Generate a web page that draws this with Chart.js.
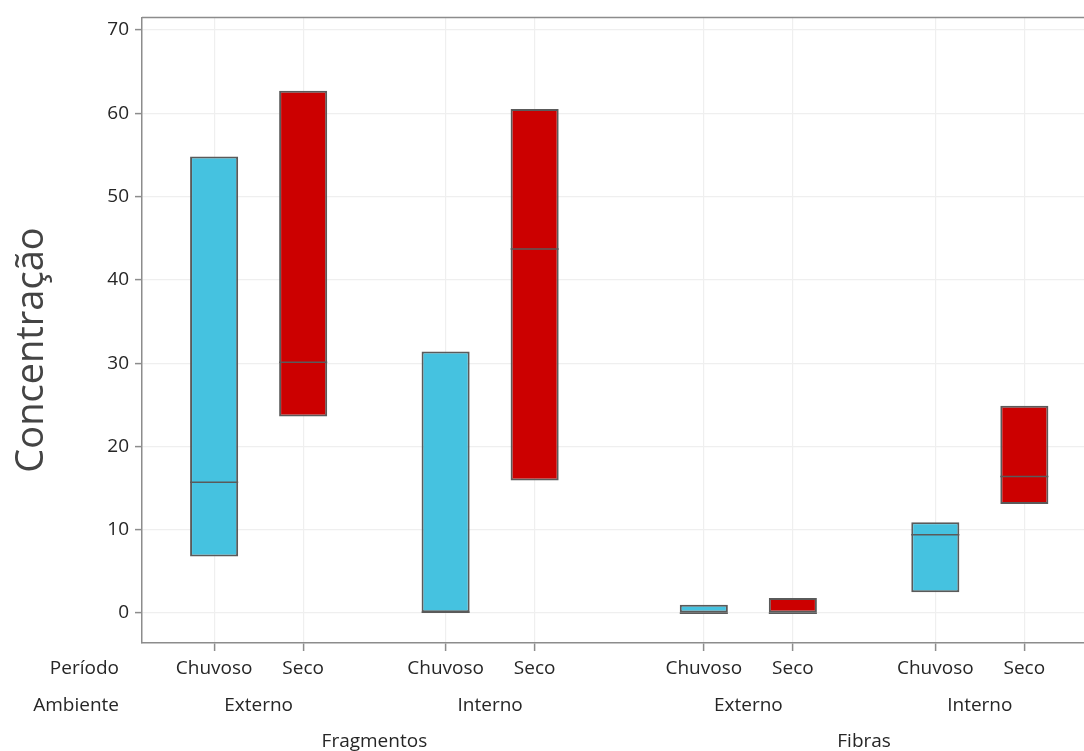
<!DOCTYPE html>
<html lang="pt">
<head>
<meta charset="utf-8">
<title>Concentração — Fragmentos e Fibras</title>
<script src="https://cdn.jsdelivr.net/npm/chart.js@4"></script>
<style>
  html, body { margin: 0; padding: 0; background: #ffffff; }
  #wrap { width: 1084px; height: 751px; }
</style>
</head>
<body>
<div id="wrap"><canvas id="c" width="1084" height="751"></canvas></div>
<script>
// Categories (one box per Período inside each Ambiente, inside each tipo)
const periodos  = ['Chuvoso', 'Seco', 'Chuvoso', 'Seco', 'Chuvoso', 'Seco', 'Chuvoso', 'Seco'];
const ambientes = ['Externo', 'Interno', 'Externo', 'Interno'];
const tipos     = ['Fragmentos', 'Fibras'];

// Box values: lower edge, median, upper edge
const minimos  = [6.8, 23.6, 0.1, 15.9, 0.0, 0.0, 2.5, 13.1];
const medianas = [15.7, 30.1, 0.1, 43.7, 0.0, 0.0, 9.4, 16.4];
const maximos  = [54.8, 62.7, 31.4, 60.5, 1.0, 1.8, 10.9, 24.9];

// Y tick labels
const yTicks = [0, 10, 20, 30, 40, 50, 60, 70];

// Horizontal layout of the slots: step between Períodos, gap between Ambientes, gap between tipos
const STEP = 1, GAP_AMB = 1.6, GAP_TIPO = 1.9;
const posicoes = [];
(function () {
  let p = 0;
  for (let i = 0; i < periodos.length; i++) {
    if (i > 0) {
      if (i % 4 === 0) p += GAP_TIPO;
      else if (i % 2 === 0) p += GAP_AMB;
      else p += STEP;
    }
    posicoes.push(p);
  }
})();

const COR_CHUVOSO = '#45c2e0';
const COR_SECO = '#cc0000';
const COR_BORDA = '#5a5a5a';
const COR_EIXO = '#8c8c8c';
const COR_TEXTO = '#262626';
const FONTE = '"Open Sans", "Noto Sans", sans-serif';

function serie(nome) {
  const pts = [];
  periodos.forEach((p, i) => {
    if (p === nome) pts.push({ x: posicoes[i], y: [minimos[i], maximos[i]], idx: i });
  });
  return pts;
}

// Median lines, frame top, axis title and the nested x labels
const extras = {
  id: 'extras',
  afterDatasetsDraw(chart) {
    const ctx = chart.ctx;
    const y = chart.scales.y;
    ctx.save();
    ctx.strokeStyle = COR_BORDA;
    ctx.lineWidth = 1.6;
    chart.data.datasets.forEach((ds, di) => {
      const meta = chart.getDatasetMeta(di);
      meta.data.forEach((bar, j) => {
        const i = ds.data[j].idx;
        const py = y.getPixelForValue(medianas[i]);
        const hw = bar.width / 2;
        ctx.beginPath();
        ctx.moveTo(bar.x - hw, py);
        ctx.lineTo(bar.x + hw, py);
        ctx.stroke();
      });
    });
    ctx.restore();
  },
  afterDraw(chart) {
    const ctx = chart.ctx;
    const a = chart.chartArea;
    const x = chart.scales.x;
    ctx.save();
    // top frame line
    ctx.strokeStyle = COR_EIXO;
    ctx.lineWidth = 1.5;
    ctx.beginPath();
    ctx.moveTo(a.left, a.top);
    ctx.lineTo(a.right, a.top);
    ctx.stroke();

    // y axis title
    ctx.fillStyle = '#444444';
    ctx.font = '38px ' + FONTE;
    ctx.textAlign = 'center';
    ctx.textBaseline = 'middle';
    ctx.translate(32, 350);
    ctx.rotate(-Math.PI / 2);
    ctx.fillText('Concentração', 0, 0);
    ctx.setTransform(1, 0, 0, 1, 0, 0);

    ctx.font = '19px ' + FONTE;
    ctx.fillStyle = COR_TEXTO;
    ctx.textBaseline = 'middle';
    const yPer = 669, yAmb = 706, yTipo = 742;

    // row headers
    ctx.textAlign = 'right';
    ctx.fillText('Período', 119, yPer);
    ctx.fillText('Ambiente', 119, yAmb);

    // Ambiente labels, centred under each pair
    ctx.textAlign = 'center';
    ambientes.forEach((amb, k) => {
      const mid = (posicoes[2 * k] + posicoes[2 * k + 1]) / 2;
      ctx.fillText(amb, x.getPixelForValue(mid), yAmb);
    });
    // tipo labels, centred under each group of four
    tipos.forEach((t, k) => {
      const mid = (posicoes[4 * k] + posicoes[4 * k + 3]) / 2;
      ctx.fillText(t, x.getPixelForValue(mid), yTipo);
    });
    ctx.restore();
  }
};

new Chart(document.getElementById('c'), {
  type: 'bar',
  data: {
    datasets: [
      {
        label: 'Chuvoso',
        data: serie('Chuvoso'),
        backgroundColor: COR_CHUVOSO,
        borderColor: COR_BORDA,
        borderWidth: 2,
        borderSkipped: false,
        grouped: false,
        barPercentage: 0.54,
        categoryPercentage: 1
      },
      {
        label: 'Seco',
        data: serie('Seco'),
        backgroundColor: COR_SECO,
        borderColor: COR_BORDA,
        borderWidth: 2,
        borderSkipped: false,
        grouped: false,
        barPercentage: 0.54,
        categoryPercentage: 1
      }
    ]
  },
  options: {
    responsive: false,
    devicePixelRatio: 1,
    animation: false,
    layout: { padding: { top: 15, right: 0, left: 0, bottom: 0 } },
    plugins: {
      legend: { display: false },
      tooltip: { enabled: false }
    },
    scales: {
      x: {
        type: 'linear',
        offset: false,
        min: -0.81,
        max: 9.77,
        afterFit(s) { s.height = 108; },
        afterBuildTicks(s) { s.ticks = posicoes.map(v => ({ value: v })); },
        border: { display: true, color: COR_EIXO, width: 1.5 },
        grid: { offset: false, color: '#efefef', lineWidth: 1.2, tickLength: 8, tickColor: COR_EIXO, tickWidth: 1.5 },
        ticks: {
          autoSkip: false,
          maxRotation: 0,
          padding: 6,
          color: COR_TEXTO,
          font: { family: FONTE, size: 19 },
          callback: (v, i) => periodos[i]
        }
      },
      y: {
        type: 'linear',
        min: -3.59,
        max: 71.5,
        afterFit(s) { s.width = 142; },
        afterBuildTicks(s) { s.ticks = yTicks.map(v => ({ value: v })); },
        border: { display: true, color: COR_EIXO, width: 1.5 },
        grid: { offset: false, color: '#efefef', lineWidth: 1.2, tickLength: 7, tickColor: COR_EIXO, tickWidth: 1.5 },
        ticks: {
          padding: 6,
          color: COR_TEXTO,
          font: { family: FONTE, size: 19 },
          callback: v => String(v)
        }
      }
    }
  },
  plugins: [extras]
});
</script>
</body>
</html>
